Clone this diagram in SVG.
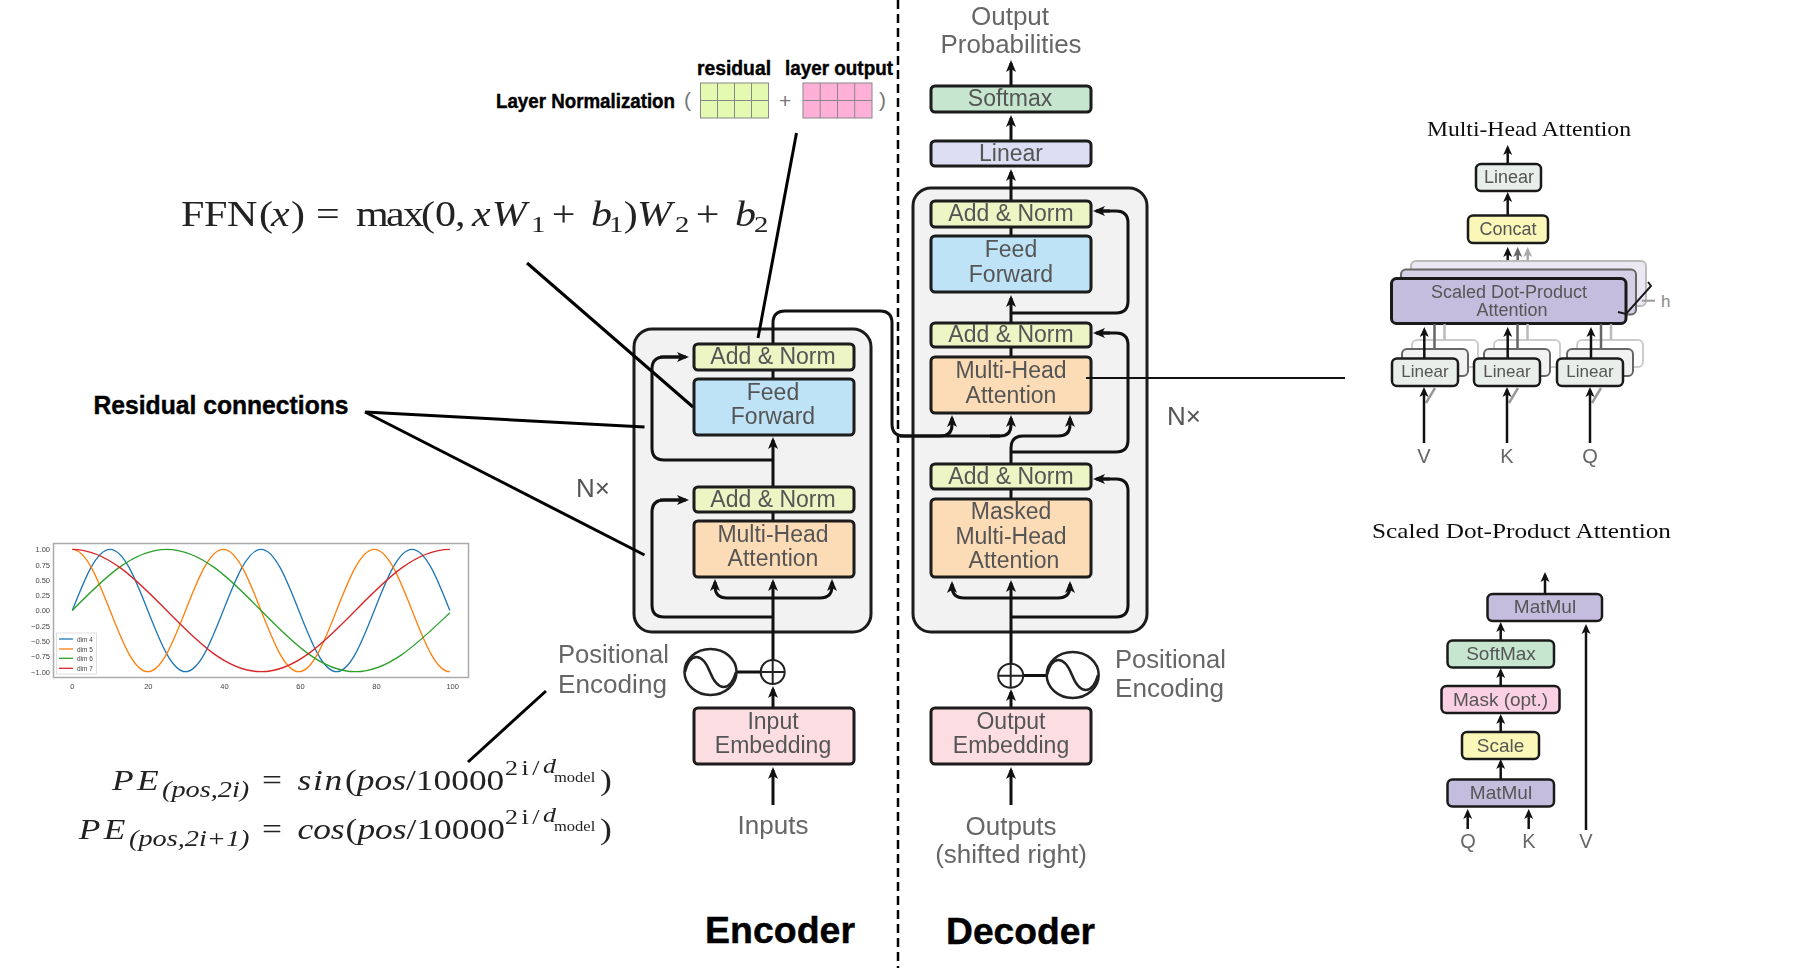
<svg xmlns="http://www.w3.org/2000/svg" width="1795" height="970" viewBox="0 0 1795 970">
<style>
text{font-family:"Liberation Sans",Arial,sans-serif}
.b{stroke:#1a1a1a;stroke-width:3}
.t{font-size:23px;fill:#555;text-anchor:middle}
.l{font-size:26px;fill:#666}
.c{fill:none;stroke:#111;stroke-width:3;marker-end:url(#a)}
.n{fill:none;stroke:#111;stroke-width:3}
.s{fill:none;stroke:#111;stroke-width:2.5;marker-end:url(#as)}
.ln{fill:none;stroke:#000;stroke-width:3}
.h{font-weight:bold;fill:#000;stroke:#000;stroke-width:.4}
.sm{font-size:18px;fill:#555;text-anchor:middle}
.sd{font-size:19px;fill:#555;text-anchor:middle}
.lab{font-size:20px;fill:#666;text-anchor:middle}
.tt{font-family:"Liberation Serif",serif;font-size:21px;fill:#111}
.m{font-family:"Liberation Serif",serif;fill:#222}
.i{font-style:italic}
.tk{font-family:"DejaVu Sans",sans-serif;font-size:7.5px;fill:#444}
.lg{font-family:"DejaVu Sans",sans-serif;font-size:6.5px;fill:#444}
.ye{fill:#eef5c4}.bl{fill:#bfe3f6}.or{fill:#fcdcb6}.pk{fill:#fbdde2}.gr{fill:#c6e6cf}.li{fill:#dcdff3}
.pu{fill:#c5bddd}.co{fill:#fbf7b8}.ln2{fill:#e8eeea}
.cv{fill:none;stroke-width:1.3}
.t,.l,.sm,.sd,.lab,.tt,.m,.tk,.lg,.b,.cv{filter:url(#soft)}
</style>
<defs>
<filter id="soft" x="-10%" y="-10%" width="120%" height="120%"><feGaussianBlur stdDeviation=".45"/></filter>
<marker id="a" markerUnits="userSpaceOnUse" markerWidth="14" markerHeight="12" refX="9" refY="6" orient="auto"><path d="M0 1 L12 6 L0 11 L3 6Z" fill="#111"/></marker>
<marker id="as" markerUnits="userSpaceOnUse" markerWidth="12" markerHeight="10" refX="7" refY="5" orient="auto"><path d="M0 .5 L10 5 L0 9.5 L2.5 5Z" fill="#111"/></marker>
<marker id="ag" markerUnits="userSpaceOnUse" markerWidth="12" markerHeight="10" refX="7" refY="5" orient="auto"><path d="M0 .5 L10 5 L0 9.5 L2.5 5Z" fill="#666"/></marker>
<marker id="agl" markerUnits="userSpaceOnUse" markerWidth="12" markerHeight="10" refX="7" refY="5" orient="auto"><path d="M0 .5 L10 5 L0 9.5 L2.5 5Z" fill="#aaa"/></marker>
</defs>
<rect width="1795" height="970" fill="#fff"/>

<line x1="898" y1="0" x2="898" y2="968" stroke="#000" stroke-width="2.5" stroke-dasharray="9 5"/>

<g id="encoder-stack"><rect x="634" y="329" width="237" height="303" rx="18" fill="#f2f2f2" class="b"/></g>
<g id="decoder-stack"><rect x="913" y="188" width="234" height="444" rx="18" fill="#f2f2f2" class="b"/></g>

<g id="connectors">
<!-- encoder -->
<path class="c" d="M773 805V770"/>
<path class="c" d="M773 707V689"/>
<path class="c" d="M773 660V582"/>
<path class="n" d="M773 617H664Q652 617 652 605V512Q652 500 664 500H680"/><path class="c" d="M660 500H686"/>
<path class="c" d="M773 598H727Q715 598 715 586V582"/>
<path class="c" d="M773 598H820Q832 598 832 586V582"/>
<path class="c" d="M773 486V440"/>
<path class="n" d="M773 520V512"/>
<path class="n" d="M773 378V370"/>
<path class="n" d="M773 460H664Q652 460 652 448V369Q652 357 664 357H680"/><path class="c" d="M660 357H686"/>
<path class="n" d="M773 343V323Q773 311 785 311H880Q892 311 892 323V424Q892 436 904 436H1000"/>
<path class="c" d="M900 436H940Q952 436 952 425V418"/>
<path class="c" d="M990 436H1000Q1011 436 1011 425V418"/>
<!-- decoder -->
<path class="c" d="M1011 805V770"/>
<path class="c" d="M1011 707V692"/>
<path class="c" d="M1011 664V583"/>
<path class="n" d="M1023 675.500H1047"/>
<path class="c" d="M1011 598H964Q952 598 952 586V584"/>
<path class="c" d="M1011 598H1058Q1070 598 1070 586V584"/>
<path class="n" d="M1011 617H1116Q1128 617 1128 605V491Q1128 479 1116 479H1100"/><path class="c" d="M1110 479H1096"/>
<path class="n" d="M1011 498V489"/>
<path class="c" d="M1011 463V448Q1011 436 1023 436H1058Q1070 436 1070 425V418"/>
<path class="n" d="M1011 452H1116Q1128 452 1128 440V345Q1128 333 1116 333H1100"/><path class="c" d="M1110 333H1096"/>
<path class="n" d="M1011 356V347"/>
<path class="c" d="M1011 322V298"/>
<path class="n" d="M1011 313H1116Q1128 313 1128 301V223Q1128 211 1116 211H1100"/><path class="c" d="M1110 211H1096"/>
<path class="n" d="M1011 235V227"/>
<path class="c" d="M1011 200V172"/>
<path class="c" d="M1011 140V118"/>
<path class="c" d="M1011 85V63"/>
<!-- callouts -->
<path class="ln" d="M365 412L644.500 427"/>
<path class="ln" d="M365 412L644.500 555"/>
<path class="ln" d="M527 263L693 407"/>
<path class="ln" d="M796.500 133L758 338"/>
<path class="ln" d="M546 691L468 762"/>
<!-- multi-head -->
<path class="s" d="M1527.700 261V250" style="stroke:#aaa;marker-end:url(#agl)"/>
<path class="s" d="M1517.700 269V250" style="stroke:#666;marker-end:url(#ag)"/>
<path class="s" d="M1507.700 278V250"/>
<path class="s" d="M1507.700 215V195"/>
<path class="s" d="M1507.700 163V148"/>
</g>

<g id="layer-norm">
<text class="h" x="496" y="108" font-size="20" textLength="179" lengthAdjust="spacingAndGlyphs">Layer Normalization</text>
<text class="h" x="697" y="75" font-size="20" textLength="74" lengthAdjust="spacingAndGlyphs">residual</text>
<text class="h" x="785" y="75" font-size="20" textLength="108" lengthAdjust="spacingAndGlyphs">layer output</text>
<text x="684" y="107" font-size="21" fill="#777">(</text>
<text x="779" y="108" font-size="21" fill="#777">+</text>
<text x="879" y="107" font-size="21" fill="#777">)</text>
<rect x="700.500" y="83" width="68" height="35" fill="#e3fab0" stroke="#888"/>
<path d="M717.500 83V118M734.500 83V118M751.500 83V118M700.500 100.500H768.500" fill="none" stroke="#888"/>
<rect x="803" y="83" width="69" height="35" fill="#ffb0d8" stroke="#888"/>
<path d="M820.200 83V118M837.500 83V118M854.700 83V118M803 100.500H872" fill="none" stroke="#888"/>
</g>

<text id="ffn" class="m" font-size="35" transform="translate(181 226) scale(1.2 1)"><tspan x="0 19.200 38.300 65">FFN(</tspan><tspan class="i" x="75">x</tspan><tspan x="91.700">)</tspan><tspan x="112.500">=</tspan><tspan x="145.800 170.800 185 200 211.700 228.300">max(0,</tspan><tspan class="i" x="242.500">x</tspan><tspan class="i" x="259">W</tspan><tspan x="291.700" dy="6" font-size="24">1</tspan><tspan x="309" dy="-6">+</tspan><tspan class="i" x="341.700">b</tspan><tspan x="356.700" dy="6" font-size="24">1</tspan><tspan x="369" dy="-6">)</tspan><tspan class="i" x="380">W</tspan><tspan x="411.700" dy="6" font-size="24">2</tspan><tspan x="429" dy="-6">+</tspan><tspan class="i" x="461.700">b</tspan><tspan x="477.500" dy="6" font-size="24">2</tspan></text>

<text class="h" x="93.500" y="414" font-size="25" textLength="255" lengthAdjust="spacingAndGlyphs">Residual connections</text>

<g id="pos-plot">
<rect x="53.500" y="543.500" width="415" height="134" fill="#fff" stroke="#aaa" stroke-width="1.500"/>
<rect x="56.500" y="633" width="40" height="41" fill="#fff" stroke="#e0e0e0"/>
<path class="cv" stroke="#1f77b4" d="M72.300 610.500c12.310 -31.350 24.080 -61.200 37.750 -61.200c13.670 0 25.440 29.850 37.750 61.200c12.310 31.350 24.080 61.200 37.750 61.200c13.670 0 25.440 -29.850 37.750 -61.200c12.310 -31.350 24.080 -61.200 37.750 -61.200c13.670 0 25.440 29.850 37.750 61.200c12.310 31.350 24.080 61.200 37.750 61.200c13.670 0 25.440 -29.850 37.750 -61.200c12.310 -31.350 24.080 -61.200 37.750 -61.200c13.670 0 25.440 29.850 37.750 61.200"/>
<path class="cv" stroke="#ff7f0e" d="M72.300 549.300c13.670 0 25.440 29.850 37.750 61.200c12.310 31.350 24.080 61.200 37.750 61.200c13.670 0 25.440 -29.850 37.750 -61.200c12.310 -31.350 24.080 -61.200 37.750 -61.200c13.670 0 25.440 29.850 37.750 61.200c12.310 31.350 24.080 61.200 37.750 61.200c13.670 0 25.440 -29.850 37.750 -61.200c12.310 -31.350 24.080 -61.200 37.750 -61.200c13.670 0 25.440 29.850 37.750 61.200c12.310 31.350 24.080 61.200 37.750 61.200"/>
<path class="cv" stroke="#2ca02c" d="M72.300 610.500c30.770 -31.350 60.230 -61.200 94.400 -61.200c34.170 0 63.630 29.850 94.400 61.200c30.770 31.350 60.230 61.200 94.400 61.200c34.170 0 63.630 -29.850 94.400 -59"/>
<path class="cv" stroke="#d62728" d="M72.300 549.300c34.170 0 63.630 29.850 94.400 61.200c30.770 31.350 60.230 61.200 94.400 61.200c34.170 0 63.630 -29.850 94.400 -61.200c30.770 -31.350 60.230 -61.200 94.400 -61.200"/>
<g class="tk" text-anchor="end"><text x="50" y="552">1.00</text><text x="50" y="567.500">0.75</text><text x="50" y="583">0.50</text><text x="50" y="598">0.25</text><text x="50" y="613">0.00</text><text x="50" y="628.500">−0.25</text><text x="50" y="644">−0.50</text><text x="50" y="659">−0.75</text><text x="50" y="674.500">−1.00</text></g>
<g class="tk" text-anchor="middle"><text x="72.300" y="689">0</text><text x="148.300" y="689">20</text><text x="224.400" y="689">40</text><text x="300.500" y="689">60</text><text x="376.500" y="689">80</text><text x="452.700" y="689">100</text></g>
<g id="legend" class="lg"><path d="M59 639H73" stroke="#1f77b4" stroke-width="1.300"/><path d="M59 649H73" stroke="#ff7f0e" stroke-width="1.300"/><path d="M59 658.300H73" stroke="#2ca02c" stroke-width="1.300"/><path d="M59 668.300H73" stroke="#d62728" stroke-width="1.300"/><text x="77" y="641.500">dim 4</text><text x="77" y="651.500">dim 5</text><text x="77" y="661">dim 6</text><text x="77" y="671">dim 7</text></g>
</g>

<g id="pe-formula">
<text class="m" font-size="30" transform="translate(0 790) scale(1.180 1)"><tspan class="i" x="94.900" letter-spacing="3">PE</tspan><tspan class="i" x="137.300" dy="7" font-size="24">(pos,2i)</tspan><tspan x="222" dy="-7">=</tspan><tspan class="i" x="252.100" letter-spacing="1.500">sin</tspan><tspan x="292.400">(</tspan><tspan class="i">pos</tspan><tspan>/10000</tspan><tspan x="428" dy="-15" font-size="22" letter-spacing="3">2i/</tspan><tspan class="i" x="460.200" dy="-2" font-size="22">d</tspan><tspan x="469.500" dy="9" font-size="14">model</tspan><tspan x="508.500" dy="8">)</tspan></text>
<text class="m" font-size="30" transform="translate(0 839) scale(1.180 1)"><tspan class="i" x="66.700" letter-spacing="3">PE</tspan><tspan class="i" x="109.300" dy="7" font-size="24">(pos,2i+1)</tspan><tspan x="222" dy="-7">=</tspan><tspan class="i" x="252.100">cos</tspan><tspan x="292.900">(</tspan><tspan class="i">pos</tspan><tspan>/10000</tspan><tspan x="428" dy="-15" font-size="22" letter-spacing="3">2i/</tspan><tspan class="i" x="460.200" dy="-2" font-size="22">d</tspan><tspan x="469.500" dy="9" font-size="14">model</tspan><tspan x="508.500" dy="8">)</tspan></text>
</g>

<!-- encoder nodes -->
<g id="enc-addnorm2"><rect x="694" y="344" width="160" height="26" rx="4" class="b ye"/><text class="t" x="773" y="364">Add &amp; Norm</text></g>
<g id="enc-ff"><rect x="694" y="379" width="160" height="56" rx="4" class="b bl"/><text class="t" x="773" y="400">Feed</text><text class="t" x="773" y="424">Forward</text></g>
<g id="enc-addnorm1"><rect x="694" y="487" width="160" height="25" rx="4" class="b ye"/><text class="t" x="773" y="507">Add &amp; Norm</text></g>
<g id="enc-mha"><rect x="694" y="521" width="160" height="56" rx="4" class="b or"/><text class="t" x="773" y="542">Multi-Head</text><text class="t" x="773" y="566">Attention</text></g>
<g id="enc-embed"><rect x="694" y="708" width="160" height="56" rx="4" class="b pk"/><text class="t" x="773" y="729">Input</text><text class="t" x="773" y="753">Embedding</text></g>
<path class="n" d="M736 672H761"/>
<g id="enc-plus"><ellipse cx="772.700" cy="672" rx="12" ry="12" fill="#fff" stroke="#222" stroke-width="2"/><path d="M761 672H785M772.700 660V684" stroke="#222" stroke-width="2"/></g>
<g id="enc-sine"><ellipse cx="710.500" cy="672" rx="26" ry="23" fill="#fff" stroke="#222" stroke-width="2.500"/><path d="M685 672C690 652 702 652 710 672S730 692 736 672" fill="none" stroke="#222" stroke-width="2.500"/></g>
<text class="l" x="558" y="663" textLength="111" lengthAdjust="spacingAndGlyphs">Positional</text>
<text class="l" x="558" y="693" textLength="109" lengthAdjust="spacingAndGlyphs">Encoding</text>
<text class="l" x="773" y="834" text-anchor="middle">Inputs</text>
<text class="l" x="576" y="497" style="fill:#555">N×</text>
<text class="h" x="705" y="943" font-size="36" textLength="150" lengthAdjust="spacingAndGlyphs">Encoder</text>

<!-- decoder nodes -->
<g id="dec-softmax"><rect x="931" y="86" width="160" height="26" rx="4" class="b gr"/><text class="t" x="1010" y="106">Softmax</text></g>
<g id="dec-linear"><rect x="931" y="141" width="160" height="25" rx="4" class="b li"/><text class="t" x="1011" y="161">Linear</text></g>
<g id="dec-addnorm3"><rect x="931" y="201" width="160" height="26" rx="4" class="b ye"/><text class="t" x="1011" y="221">Add &amp; Norm</text></g>
<g id="dec-ff"><rect x="931" y="236" width="160" height="56" rx="4" class="b bl"/><text class="t" x="1011" y="257">Feed</text><text class="t" x="1011" y="282">Forward</text></g>
<g id="dec-addnorm2"><rect x="931" y="323" width="160" height="24" rx="4" class="b ye"/><text class="t" x="1011" y="342">Add &amp; Norm</text></g>
<g id="dec-mha"><rect x="931" y="357" width="160" height="56" rx="4" class="b or"/><text class="t" x="1011" y="378">Multi-Head</text><text class="t" x="1011" y="403">Attention</text></g>
<g id="dec-addnorm1"><rect x="931" y="464" width="160" height="25" rx="4" class="b ye"/><text class="t" x="1011" y="484">Add &amp; Norm</text></g>
<g id="dec-masked"><rect x="931" y="499" width="160" height="78" rx="4" class="b or"/><text class="t" x="1011" y="519">Masked</text><text class="t" x="1011" y="544">Multi-Head</text><text class="t" x="1014" y="568">Attention</text></g>
<g id="dec-embed"><rect x="931" y="708" width="160" height="56" rx="4" class="b pk"/><text class="t" x="1011" y="729">Output</text><text class="t" x="1011" y="753">Embedding</text></g>
<g id="dec-plus"><ellipse cx="1010.700" cy="675.700" rx="12.500" ry="12" fill="#fff" stroke="#222" stroke-width="2"/><path d="M998 675.700H1023M1010.700 664V688" stroke="#222" stroke-width="2"/></g>
<g id="dec-sine"><ellipse cx="1072.700" cy="675" rx="26" ry="23" fill="#fff" stroke="#222" stroke-width="2.500"/><path d="M1047 675C1052 655 1064 655 1072 675S1092 695 1098 675" fill="none" stroke="#222" stroke-width="2.500"/></g>
<path id="mha-callout" d="M1086 378H1345" fill="none" stroke="#111" stroke-width="2.200"/>
<text class="l" x="1010" y="25" text-anchor="middle">Output</text>
<text class="l" x="1011" y="53" text-anchor="middle" textLength="141" lengthAdjust="spacingAndGlyphs">Probabilities</text>
<text class="l" x="1115" y="668" textLength="111" lengthAdjust="spacingAndGlyphs">Positional</text>
<text class="l" x="1115" y="697" textLength="109" lengthAdjust="spacingAndGlyphs">Encoding</text>
<text class="l" x="1011" y="835" text-anchor="middle">Outputs</text>
<text class="l" x="1011" y="863" text-anchor="middle">(shifted right)</text>
<text class="l" x="1167" y="425" style="fill:#555">N×</text>
<text class="h" x="946" y="944" font-size="36" textLength="149" lengthAdjust="spacingAndGlyphs">Decoder</text>

<!-- multi-head attention panel -->
<text class="tt" x="1427" y="136" textLength="204" lengthAdjust="spacingAndGlyphs">Multi-Head Attention</text>
<g id="mh-linear-top"><rect x="1476" y="164" width="65" height="27" rx="5" class="ln2" stroke="#1a1a1a" stroke-width="2.500"/><text class="sm" x="1509" y="183">Linear</text></g>
<g id="mh-concat"><rect x="1468" y="215.500" width="80" height="27.500" rx="5" class="co" stroke="#1a1a1a" stroke-width="2.500"/><text class="sm" x="1508" y="235">Concat</text></g>
<g id="mh-sdpa">
<rect x="1411" y="261" width="235" height="45" rx="5" fill="#ebe8f3" stroke="#bbb" stroke-width="2"/>
<rect x="1401" y="269.500" width="235" height="45" rx="5" fill="#d6d0e6" stroke="#666" stroke-width="2"/>
<rect x="1391.500" y="278.500" width="234.500" height="45" rx="5" class="pu" stroke="#1a1a1a" stroke-width="3"/>
<text class="sm" x="1509" y="298">Scaled Dot-Product</text><text class="sm" x="1512" y="316">Attention</text>
</g>
<g id="mh-h"><path d="M1642 300.700H1655" stroke="#999" stroke-width="2"/><path d="M1618 312L1626 314L1651 286L1648 282" fill="none" stroke="#1a1a1a" stroke-width="2"/><text x="1661" y="307" font-size="17" fill="#888">h</text></g>
<g id="mh-linear-v"><rect x="1412" y="340" width="66" height="27" rx="5" fill="#fff" stroke="#ccc" stroke-width="2"/><rect x="1402" y="349" width="66" height="27" rx="5" fill="#f2f2f2" stroke="#666" stroke-width="2"/><rect x="1392" y="358.500" width="66" height="27.500" rx="5" class="ln2" stroke="#1a1a1a" stroke-width="2.500"/><text class="sm" x="1425" y="377" style="font-size:17px">Linear</text></g>
<g id="mh-linear-k"><rect x="1494" y="340" width="66" height="27" rx="5" fill="#fff" stroke="#ccc" stroke-width="2"/><rect x="1484" y="349" width="66" height="27" rx="5" fill="#f2f2f2" stroke="#666" stroke-width="2"/><rect x="1474" y="358.500" width="66" height="27.500" rx="5" class="ln2" stroke="#1a1a1a" stroke-width="2.500"/><text class="sm" x="1507" y="377" style="font-size:17px">Linear</text></g>
<g id="mh-linear-q"><rect x="1577" y="340" width="66" height="27" rx="5" fill="#fff" stroke="#ccc" stroke-width="2"/><rect x="1567" y="349" width="66" height="27" rx="5" fill="#f2f2f2" stroke="#666" stroke-width="2"/><rect x="1557" y="358.500" width="66" height="27.500" rx="5" class="ln2" stroke="#1a1a1a" stroke-width="2.500"/><text class="sm" x="1590" y="377" style="font-size:17px">Linear</text></g>
<g id="mh-connectors">
<path class="s" d="M1424.300 358V330"/><path class="s" d="M1507.700 358V330"/><path class="s" d="M1591 358V330"/>
<path d="M1434.500 349V324M1517.500 349V324M1601 349V324" stroke="#666" stroke-width="2.500"/>
<path d="M1444.500 340V324M1527.500 340V324M1611 340V324" stroke="#bbb" stroke-width="2.500"/>
<path d="M1435 388L1426 403M1518 388L1509 403M1601 388L1592 403" stroke="#999" stroke-width="2.500"/>
<path class="s" d="M1424 443V390"/><path class="s" d="M1507 443V390"/><path class="s" d="M1590 443V390"/>
</g>
<text class="lab" x="1424" y="463">V</text><text class="lab" x="1507" y="463">K</text><text class="lab" x="1590" y="463">Q</text>

<!-- scaled dot-product panel -->
<text class="tt" x="1372" y="538" textLength="299" lengthAdjust="spacingAndGlyphs">Scaled Dot-Product Attention</text>
<g id="sd-matmul2"><rect x="1487.500" y="594" width="114.500" height="27" rx="5" class="pu" stroke="#1a1a1a" stroke-width="2.500"/><text class="sd" x="1545" y="613">MatMul</text></g>
<g id="sd-softmax"><rect x="1447.500" y="640.500" width="106.500" height="27" rx="5" class="gr" stroke="#1a1a1a" stroke-width="2.500"/><text class="sd" x="1501" y="660">SoftMax</text></g>
<g id="sd-mask"><rect x="1441.500" y="686" width="118" height="27" rx="5" fill="#fbd0e2" stroke="#1a1a1a" stroke-width="2.500"/><text class="sd" x="1500.500" y="706">Mask (opt.)</text></g>
<g id="sd-scale"><rect x="1462" y="732" width="77" height="27" rx="5" class="co" stroke="#1a1a1a" stroke-width="2.500"/><text class="sd" x="1500.500" y="752">Scale</text></g>
<g id="sd-matmul1"><rect x="1447.500" y="779.500" width="106.500" height="27" rx="5" class="pu" stroke="#1a1a1a" stroke-width="2.500"/><text class="sd" x="1501" y="799">MatMul</text></g>
<g id="sd-connectors">
<path class="s" d="M1545 593V575"/>
<path class="s" d="M1500.700 640V625"/>
<path class="s" d="M1500.700 686V671"/>
<path class="s" d="M1500.700 732V717"/>
<path class="s" d="M1500.700 779V762"/>
<path class="s" d="M1467.700 829V812"/>
<path class="s" d="M1528.700 829V812"/>
<path class="s" d="M1586 830V627"/>
</g>
<text class="lab" x="1468" y="848">Q</text><text class="lab" x="1529" y="848">K</text><text class="lab" x="1586" y="848">V</text>
</svg>
